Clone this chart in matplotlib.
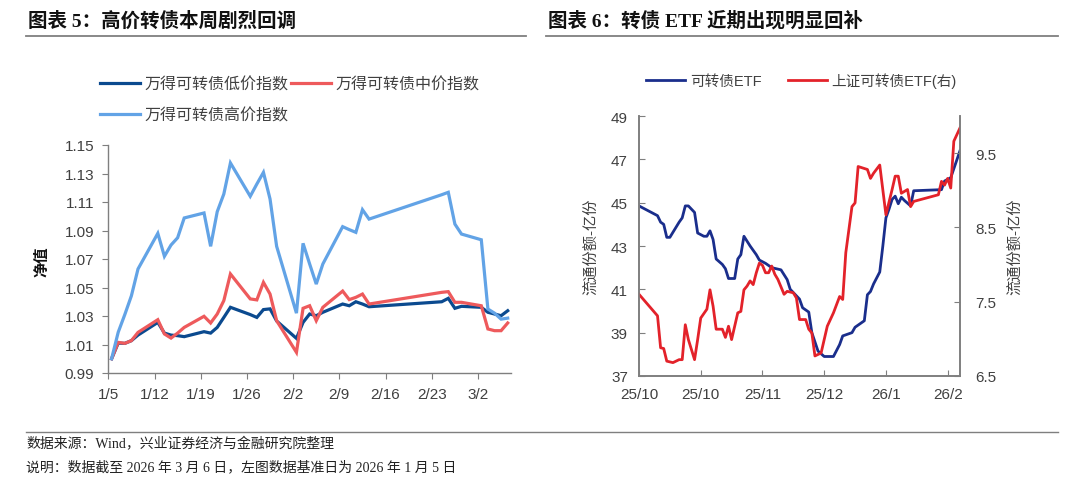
import matplotlib
matplotlib.use('Agg')
import matplotlib.pyplot as plt
import matplotlib.dates as mdates
from matplotlib.lines import Line2D
from matplotlib.ticker import FormatStrFormatter
import numpy as np
import pandas as pd

# ---------------- data: left chart (net value, base 2026-01-05) ----------------
left_dates = ['2026-01-05', '2026-01-06', '2026-01-07', '2026-01-08', '2026-01-09',
              '2026-01-12', '2026-01-13', '2026-01-14', '2026-01-15', '2026-01-16',
              '2026-01-19', '2026-01-20', '2026-01-21', '2026-01-22', '2026-01-23',
              '2026-01-26', '2026-01-27', '2026-01-28', '2026-01-29', '2026-01-30',
              '2026-02-02', '2026-02-03', '2026-02-04', '2026-02-05', '2026-02-06',
              '2026-02-09', '2026-02-10', '2026-02-11', '2026-02-12', '2026-02-13',
              '2026-02-24', '2026-02-25', '2026-02-26', '2026-02-27',
              '2026-03-02', '2026-03-03', '2026-03-04', '2026-03-05', '2026-03-06']
low_idx = [1.000, 1.011, 1.0108, 1.0127, 1.0166,
           1.0255, 1.018, 1.0166, 1.0162, 1.0155,
           1.019, 1.018, 1.022, 1.029, 1.0361,
           1.031, 1.029, 1.0345, 1.035, 1.0265,
           1.0143, 1.0255, 1.0314, 1.0302, 1.0326,
           1.0384, 1.0372, 1.040, 1.0384, 1.0365,
           1.040, 1.0424, 1.0354, 1.0368,
           1.0361, 1.0326, 1.0314, 1.0302, 1.0337]
mid_idx = [1.000, 1.0115, 1.0108, 1.0127, 1.0185,
           1.0274, 1.0174, 1.0145, 1.018, 1.022,
           1.0298, 1.0251, 1.0314, 1.0408, 1.0595,
           1.042, 1.0413, 1.0536, 1.0454, 1.0267,
           1.0045, 1.0354, 1.0372, 1.0267, 1.0361,
           1.0475, 1.0415, 1.0431, 1.0454, 1.0384,
           1.0466, 1.0471, 1.0396, 1.0396,
           1.0372, 1.0209, 1.0197, 1.0197, 1.0251]
high_idx = [1.000, 1.0186, 1.031, 1.0442, 1.063,
            1.088, 1.0719, 1.0798, 1.0849, 1.0988,
            1.1023, 1.0789, 1.1032, 1.1156, 1.1374,
            1.114, 1.1226, 1.1308, 1.1121, 1.0789,
            1.032, 1.081, 1.0665, 1.0524, 1.0665,
            1.0927, 1.0906, 1.0887, 1.1046, 1.098,
            1.1151, 1.1168, 1.0945, 1.0875,
            1.0835, 1.0349, 1.032, 1.0278, 1.0285]
left_tick_dates = ['2026-01-05', '2026-01-12', '2026-01-19', '2026-01-26', '2026-02-02',
                   '2026-02-09', '2026-02-16', '2026-02-23', '2026-03-02']
left_tick_labels = ['1/5', '1/12', '1/19', '1/26', '2/2', '2/9', '2/16', '2/23', '3/2']
left_names = ['万得可转债低价指数', '万得可转债中价指数', '万得可转债高价指数']

# ---------------- data: right chart (trading-day index) ----------------
etf_day = [0, 6, 7, 8, 9, 10, 13, 14, 15, 16, 18, 19, 21, 22, 23, 24, 25, 27, 28, 29,
           31, 32, 33, 34, 36, 38, 39, 41, 43, 46, 48, 49, 52, 53, 55, 56, 58, 60, 63,
           65, 66, 69, 70, 72, 73, 74, 75, 76, 78, 79, 80, 81, 82, 83, 84, 85, 86, 88,
           89, 98, 99, 101, 104]
etf_share = [44.85, 44.4, 44.1, 44.0, 43.4, 43.4, 44.1, 44.3, 44.85, 44.85, 44.55, 43.6,
             43.45, 43.45, 43.7, 43.3, 42.4, 42.15, 41.95, 41.5,
             41.5, 42.4, 42.6, 43.45, 43.0, 42.6, 42.35, 42.2, 42.0, 41.9, 41.45, 41.0,
             40.55, 40.15, 39.95, 39.0, 38.15, 37.9, 37.9,
             38.45, 38.85, 39.0, 39.25, 39.45, 39.55, 40.75, 40.9, 41.25, 41.8, 43.0,
             44.3, 44.7, 45.15, 45.3, 44.95, 45.25, 45.1, 44.85,
             45.55, 45.6, 46.0, 46.15, 47.4]
sh_day = [0, 6, 7, 8, 9, 11, 13, 14, 15, 16, 18, 19, 20, 22, 23, 24, 25, 27, 28, 29,
          30, 31, 32, 33, 34, 35, 36, 37, 38, 39, 40, 41, 42, 43, 44, 45, 47, 48, 50,
          51, 52, 54, 55, 56, 57, 59, 61, 63, 65, 66, 67, 68, 69, 70, 71, 74, 75, 76,
          78, 80, 82, 83, 84, 85, 87, 88, 89, 97, 98, 99, 100, 101, 102, 104]
sh_share = [7.6, 7.31, 6.88, 6.87, 6.70, 6.68, 6.72, 6.72, 7.19, 6.99, 6.72, 6.99, 7.28,
            7.40, 7.66, 7.44, 7.13, 7.13, 7.02, 7.17,
            6.99, 7.17, 7.35, 7.37, 7.66, 7.71, 7.78, 7.73, 7.89, 8.02, 7.99, 7.89, 7.89,
            7.98, 7.87, 7.80, 7.60, 7.64, 7.62,
            7.55, 7.26, 7.26, 7.13, 7.08, 6.77, 6.81, 7.17, 7.35, 7.57, 7.53, 8.16, 8.47,
            8.78, 8.83, 9.32, 9.28, 9.16, 9.23,
            9.34, 8.67, 9.01, 9.19, 9.19, 8.96, 9.01, 8.78, 8.85, 8.94, 9.12, 9.07, 9.16,
            9.03, 9.66, 9.84]
right_tick_pos = [0, 20, 40, 60, 80, 100]
right_tick_labels = ['25/10', '25/10', '25/11', '25/12', '26/1', '26/2']
right_names = ['可转债ETF', '上证可转债ETF(右)']

# ---------------- styles ----------------
SANS = ['Liberation Sans', 'Noto Sans CJK SC']
SERIF = ['Liberation Serif', 'Noto Sans CJK SC']
plt.rcParams['font.family'] = SANS
GREY = '#7f7f7f'
TXT = '#404040'

W, H = 1080, 481
fig = plt.figure(figsize=(W / 100, H / 100), dpi=100)

def fx(px):
    return px / W

def fy(py):
    return 1 - py / H

# titles
fig.text(fx(28), fy(21), '图表 5：高价转债本周剧烈回调', fontsize=14, fontweight='bold',
         va='center', ha='left', family=SERIF, color='#111111')
fig.text(fx(548), fy(21), '图表 6：转债 ETF 近期出现明显回补', fontsize=14, fontweight='bold',
         va='center', ha='left', family=SERIF, color='#111111')
fig.add_artist(Line2D([fx(26), fx(526)], [fy(37), fy(37)], color=GREY, lw=1.3))
fig.add_artist(Line2D([fx(546), fx(1058)], [fy(37), fy(37)], color=GREY, lw=1.3))
fig.add_artist(Line2D([fx(26), fx(1058)], [fy(433), fy(433)], color=GREY, lw=1.0))

# footer
fig.text(fx(26), fy(444), '数据来源：Wind，兴业证券经济与金融研究院整理', fontsize=10,
         va='center', ha='left', family=SERIF, color='#222222')
fig.text(fx(26), fy(467), '说明：数据截至 2026 年 3 月 6 日，左图数据基准日为 2026 年 1 月 5 日',
         fontsize=10, va='center', ha='left', family=SERIF, color='#222222')

# ---------------- left chart ----------------
axL = fig.add_axes([fx(108.3), fy(374), fx(511) - fx(108.3), fy(146) - fy(374)])
d = pd.to_datetime(left_dates)
cols_left = ['#0B4A8F', '#EE5A5C', '#62A3E6']
hL = []
for vals, c, nm in zip([low_idx, mid_idx, high_idx], cols_left, left_names):
    ln, = axL.plot(d, vals, color=c, lw=2.3, label=nm, solid_joinstyle='miter')
    hL.append(ln)
axL.set_ylim(0.99, 1.15)
axL.set_yticks(np.arange(0.99, 1.1501, 0.02))
axL.yaxis.set_major_formatter(FormatStrFormatter('%.2f'))
tpos = mdates.date2num(pd.to_datetime(left_tick_dates)) - 0.5
axL.set_xticks(tpos)
axL.set_xticklabels(left_tick_labels)
axL.set_xlim(mdates.date2num(pd.Timestamp('2026-01-05')) - 0.5,
             mdates.date2num(pd.Timestamp('2026-03-06')) + 0.5)
for s in ['top', 'right']:
    axL.spines[s].set_visible(False)
for s in ['left', 'bottom']:
    axL.spines[s].set_color(GREY)
    axL.spines[s].set_linewidth(1.0)
axL.tick_params(direction='out', length=4, color=GREY, labelcolor=TXT, labelsize=11, pad=6)
axL.patch.set_alpha(0)
fig.text(fx(42), fy(262), '净值', rotation=90, fontsize=11, fontweight='bold',
         va='center', ha='center', color='#111111')
axL.legend([hL[0], hL[2], hL[1]], [left_names[0], left_names[2], left_names[1]],
           ncol=2, loc='upper left', bbox_to_anchor=(fx(100), fy(77)),
           bbox_transform=fig.transFigure, frameon=False, fontsize=11.5,
           handlelength=2.5, handletextpad=0.3, columnspacing=0.15, labelspacing=1.0,
           borderaxespad=0, borderpad=0, labelcolor=TXT)

# ---------------- right chart ----------------
axR = fig.add_axes([fx(639), fy(377), fx(960) - fx(639), fy(117) - fy(377)])
l1, = axR.plot(etf_day, etf_share, color='#1A2E8C', lw=2.0, label=right_names[0])
axR.set_ylim(37, 49)
axR.set_yticks(np.arange(37, 49.1, 2))
axR.set_xlim(0, 104)
axR.set_xticks(right_tick_pos)
axR.set_xticklabels(right_tick_labels)
axR2 = axR.twinx()
l2, = axR2.plot(sh_day, sh_share, color='#E3222A', lw=2.0, label=right_names[1])
axR2.set_ylim(6.5, 10.0)
axR2.set_yticks([6.5, 7.5, 8.5, 9.5])
axR2.yaxis.set_major_formatter(FormatStrFormatter('%.1f'))
for a in (axR, axR2):
    a.spines['top'].set_visible(False)
    for s in ['left', 'bottom', 'right']:
        a.spines[s].set_color(GREY)
        a.spines[s].set_linewidth(1.2)
axR.tick_params(axis='both', direction='in', length=4, color=GREY, labelcolor=TXT,
                labelsize=11, pad=8)
axR2.tick_params(axis='y', direction='in', length=4, color=GREY, labelcolor=TXT,
                 labelsize=11, pad=11)
fig.text(fx(591), fy(247), '流通份额-亿份', rotation=90, fontsize=11, va='center',
         ha='center', color=TXT)
fig.text(fx(1015), fy(247), '流通份额-亿份', rotation=90, fontsize=11, va='center',
         ha='center', color=TXT)
axR.legend([l1, l2], right_names, ncol=2, loc='upper left',
           bbox_to_anchor=(fx(646), fy(73)), bbox_transform=fig.transFigure,
           frameon=False, fontsize=10.5, handlelength=2.7, handletextpad=0.3,
           columnspacing=1.8, borderaxespad=0, borderpad=0, labelcolor=TXT)

fig.savefig('out.png', dpi=100)
